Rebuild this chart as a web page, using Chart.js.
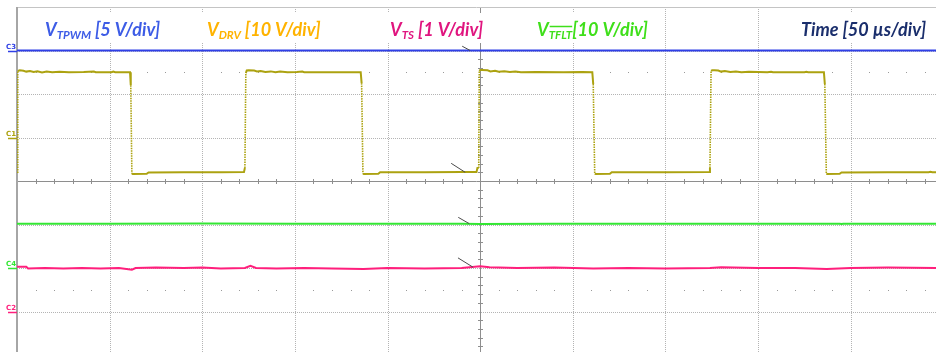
<!DOCTYPE html>
<html>
<head>
<meta charset="utf-8">
<script src="https://cdn.jsdelivr.net/npm/chart.js@4/dist/chart.umd.min.js"></script>
<style>
  html, body { margin: 0; padding: 0; background: #fff; overflow: hidden; }
  canvas { display: block; }
</style>
</head>
<body>
<canvas id="scope" width="936" height="352"></canvas>
<script>
// Time base: 50 µs per division, trigger at t = 0
const timePerDiv = 50;
const timeWindow = [-250, 246];
const screenDivs = [-3.93, 4];

// Channels in header order
const channelNames = ['TPWM', 'DRV', 'TS', 'TFLT'];
const channelTags  = ['C3', 'C1', 'C2', 'C4'];
const voltsPerDiv  = [5, 10, 1, 10];
const groundDiv    = [3, 1, -3, -2];
const headerScale  = [' [5 V/div]', ' [10 V/div]', ' [1 V/div]', '[10 V/div]'];
const timeLabel    = 'Time [50 µs/div]';

// Samples as [time µs, volts]
const tpwmSamples = [[-250, 0], [246, 0]];

const drvSamples = [
  [-250, -8.0], [-249.6, 15.3], [-248.5, 15.45], [-246.5, 15.35], [-245, 15.15], [-243, 15.3],
  [-241, 15.05], [-239, 15.2], [-236.5, 14.95], [-234, 15.15], [-231, 15.0], [-227, 15.1],
  [-222, 15.0], [-214, 15.05], [-208.5, 15.15], [-207.5, 15.0], [-199, 15.0], [-198, 15.15],
  [-197, 15.0], [-189, 15.0], [-188.6, 12.0], [-188, -8.3], [-187.5, -8.4], [-180, -8.35],
  [-179, -8.05], [-160, -8.0], [-140, -8.0], [-127.5, -7.95], [-127, -7.0], [-126.5, 14.8],
  [-126, 15.4], [-125, 15.45], [-122, 15.4], [-120.5, 15.2], [-118.5, 15.3], [-116, 15.05],
  [-113, 15.2], [-110.5, 15.0], [-108, 15.15], [-104, 15.0], [-99, 15.05], [-96, 15.15],
  [-95, 15.0], [-80, 15.0], [-70, 15.0], [-64.5, 15.0], [-64, 12.5], [-63.3, -8.3],
  [-62.8, -8.4], [-55, -8.35], [-54, -8.0], [-30, -8.0], [-10, -7.95], [-2, -7.95],
  [-1.5, -7.0], [-0.8, -7.0], [-0.5, 15.3], [0, 15.5], [1, 15.5], [4, 15.45],
  [5.5, 15.2], [8, 15.35], [10, 15.1], [13, 15.25], [16, 15.05], [19, 15.2],
  [22, 15.0], [30, 15.05], [45, 15.0], [55, 15.05], [60.5, 15.0], [61, 12.3],
  [61.8, -8.3], [62.3, -8.4], [70, -8.35], [71, -8.0], [100, -8.0], [123.5, -7.95],
  [124, -7.0], [124.6, 15.3], [125.2, 15.45], [126.5, 15.45], [128.5, 15.4], [130, 15.15],
  [132, 15.3], [135, 15.05], [138, 15.2], [141, 15.0], [145, 15.1], [155, 15.0],
  [157, 15.1], [158, 15.0], [175, 15.0], [176, 15.1], [177, 15.0], [185.5, 15.0],
  [186, 12.3], [186.8, -8.3], [187.3, -8.4], [194, -8.35], [195, -8.05], [220, -8.0],
  [242, -8.0], [243, -7.9], [244, -8.0], [246, -8.0]
];

const tsSamples = [
  [-250, 1.03], [-245, 1.03], [-244, 0.99], [-235, 1.0], [-225, 0.99], [-215, 1.0],
  [-205, 0.99], [-195, 1.0], [-188, 0.96], [-186, 1.0], [-175, 1.01], [-160, 1.0],
  [-150, 1.01], [-140, 0.99], [-127, 1.0], [-124, 1.05], [-121, 1.0], [-110, 0.99],
  [-95, 1.0], [-80, 0.99], [-63, 0.98], [-50, 1.0], [-30, 0.99], [-10, 1.0],
  [0, 1.04], [5, 1.02], [20, 1.0], [40, 1.01], [61, 0.99], [80, 1.0],
  [100, 0.99], [124, 1.0], [130, 1.02], [150, 1.0], [170, 1.0], [187, 0.98],
  [200, 1.0], [220, 1.01], [246, 1.0]
];

const tfltSamples = [
  [-250, 10.2], [-200, 10.2], [-150, 10.25], [-100, 10.2], [-60, 10.2], [-10, 10.2],
  [0, 10.15], [40, 10.2], [100, 10.2], [150, 10.2], [194, 10.2], [195, 10.1],
  [196, 10.2], [246, 10.2]
];

const traceColors = ['#2f3fe6', '#aca210', '#ff1f7c', '#33e633'];
const headerColors = ['#3d5ce6', '#ffb300', '#e0157f', '#3fdf1a'];
const timeColor = '#1a2e6c';

const sampleSets = [tpwmSamples, drvSamples, tsSamples, tfltSamples];

// Convert volts to screen divisions using each channel's scale and ground marker
function toScreen(samples, ch) {
  return samples.map(([t, v]) => ({ x: t, y: v / voltsPerDiv[ch] + groundDiv[ch] }));
}

const datasets = sampleSets.map((s, ch) => ({
  label: 'V' + channelNames[ch],
  data: toScreen(s, ch),
  borderColor: traceColors[ch],
  borderWidth: 2,
  pointRadius: 0,
  tension: 0,
  fill: false,
  segment: {
    borderDash: ctx => Math.abs(ctx.p1.parsed.y - ctx.p0.parsed.y) > 0.5 ? [1.5, 1] : undefined,
    borderWidth: ctx => Math.abs(ctx.p1.parsed.y - ctx.p0.parsed.y) > 0.5 ? 1.6 : undefined
  }
}));

// Graticule: border, dotted divisions, centre axes with minor ticks, marker dot rows
const graticule = {
  id: 'graticule',
  beforeDatasetsDraw(chart) {
    const { ctx, chartArea: a, scales: { x, y } } = chart;
    ctx.save();
    // dotted division lines
    ctx.strokeStyle = '#b4b4b4';
    ctx.lineWidth = 1;
    ctx.setLineDash([1, 1]);
    for (let k = -4; k <= 4; k++) {
      if (k === 0) continue;
      const px = Math.round(x.getPixelForValue(k * timePerDiv)) + 0.5;
      ctx.beginPath(); ctx.moveTo(px, a.top); ctx.lineTo(px, a.bottom); ctx.stroke();
    }
    for (let d = -3; d <= 3; d++) {
      if (d === 0) continue;
      const py = Math.round(y.getPixelForValue(d)) + 0.5;
      ctx.beginPath(); ctx.moveTo(a.left, py); ctx.lineTo(a.right, py); ctx.stroke();
    }
    ctx.setLineDash([]);
    // centre axes
    const cx = Math.round(x.getPixelForValue(0)) + 0.5;
    const cy = Math.round(y.getPixelForValue(0)) + 0.5;
    ctx.strokeStyle = '#8e8e8e';
    ctx.beginPath(); ctx.moveTo(cx, a.top); ctx.lineTo(cx, a.bottom); ctx.stroke();
    ctx.beginPath(); ctx.moveTo(a.left, cy); ctx.lineTo(a.right, cy); ctx.stroke();
    // minor ticks every 1/5 division
    ctx.beginPath();
    for (let m = -25; m <= 25; m++) {
      if (m % 5 === 0) continue;
      const px = Math.round(x.getPixelForValue(m * timePerDiv / 5)) + 0.5;
      ctx.moveTo(px, cy - 2.5); ctx.lineTo(px, cy + 2.5);
    }
    for (let m = -20; m <= 20; m++) {
      if (m % 5 === 0) continue;
      const py = Math.round(y.getPixelForValue(m / 5)) + 0.5;
      ctx.moveTo(cx - 2.5, py); ctx.lineTo(cx + 2.5, py);
    }
    ctx.stroke();
    // dot rows at ±2.5 divisions
    ctx.fillStyle = '#9a9a9a';
    [2.5, -2.5].forEach(d => {
      const py = Math.round(y.getPixelForValue(d));
      for (let m = -25; m <= 25; m++) {
        if (m % 5 === 0) continue;
        const px = Math.round(x.getPixelForValue(m * timePerDiv / 5));
        ctx.fillRect(px, py, 1, 1);
      }
    });
    // outer frame
    ctx.strokeStyle = '#c4c4c4';
    ctx.beginPath(); ctx.moveTo(a.left, a.top + 0.5); ctx.lineTo(a.right, a.top + 0.5); ctx.stroke();
    ctx.strokeStyle = '#a6a6a6';
    ctx.lineWidth = 2;
    ctx.beginPath(); ctx.moveTo(a.left, a.top); ctx.lineTo(a.left, a.bottom); ctx.stroke();
    ctx.restore();
  }
};

// Channel ground tags, level pointers and header captions
const overlay = {
  id: 'overlay',
  afterDatasetsDraw(chart) {
    const { ctx, chartArea: a, scales: { x, y } } = chart;
    ctx.save();

    // channel ground tags in the left margin
    channelTags.forEach((tag, ch) => {
      const py = Math.round(y.getPixelForValue(groundDiv[ch]));
      ctx.fillStyle = traceColors[ch];
      ctx.strokeStyle = traceColors[ch];
      ctx.font = 'bold 7px "DejaVu Sans"';
      ctx.textBaseline = 'alphabetic';
      ctx.fillText(tag, 6, py - 2);
      ctx.lineWidth = 1.5;
      ctx.beginPath(); ctx.moveTo(8, py + 0.5); ctx.lineTo(a.left, py + 0.5); ctx.stroke();
    });

    // small level pointers just before the trigger
    const pointers = [[-5.4, 3.0, 8, 4.3], [-8.1, 0.2, 14, 9], [-3.9, -1.98, 15, 9.3], [-5.9, -0.98, 11, 6.3]];
    ctx.strokeStyle = '#4a4a4a';
    ctx.lineWidth = 1;
    pointers.forEach(([t, d, dx, dy]) => {
      const px = x.getPixelForValue(t), py = y.getPixelForValue(d);
      ctx.beginPath(); ctx.moveTo(px - dx, py - dy); ctx.lineTo(px, py); ctx.stroke();
    });

    // header captions on white boxes
    const main = 18, sub = 11.5;
    const family = 'Lato, "Open Sans", sans-serif';
    const baseline = 35.5;
    const lefts = [45, 207, 390, 537];
    ctx.textBaseline = 'alphabetic';
    const measure = (txt, size) => { ctx.font = `italic bold ${size}px ${family}`; return ctx.measureText(txt).width; };

    channelNames.forEach((name, ch) => {
      const parts = [['V', main, 0], [name, sub, 3.2], [headerScale[ch], main, 0]];
      const total = parts.reduce((s, p) => s + measure(p[0], p[1]), 0);
      ctx.fillStyle = '#ffffff';
      ctx.fillRect(lefts[ch] - 12, 13, total + 24, 30);
      let px = lefts[ch];
      parts.forEach(([txt, size, drop], i) => {
        const w = measure(txt, size);
        ctx.fillStyle = headerColors[ch];
        ctx.fillText(txt, px, baseline + drop);
        if (i === 1 && name === 'TFLT') {
          ctx.strokeStyle = headerColors[ch];
          ctx.lineWidth = 1.5;
          ctx.beginPath(); ctx.moveTo(px + 1, 26.5); ctx.lineTo(px + w, 26.5); ctx.stroke();
        }
        px += w;
      });
    });

    const tw = measure(timeLabel, main);
    ctx.fillStyle = '#ffffff';
    ctx.fillRect(926 - tw - 12, 13, tw + 24, 30);
    ctx.fillStyle = timeColor;
    ctx.fillText(timeLabel, 926 - tw, baseline);

    ctx.restore();
  }
};

new Chart(document.getElementById('scope'), {
  type: 'line',
  data: { datasets },
  options: {
    responsive: false,
    animation: false,
    devicePixelRatio: 1,
    layout: { padding: { left: 17, top: 7, right: 0, bottom: 0 } },
    parsing: false,
    normalized: true,
    scales: {
      x: { type: 'linear', display: false, min: timeWindow[0], max: timeWindow[1] },
      y: { type: 'linear', display: false, min: screenDivs[0], max: screenDivs[1] }
    },
    plugins: { legend: { display: false }, tooltip: { enabled: false } }
  },
  plugins: [graticule, overlay]
});
</script>
</body>
</html>
